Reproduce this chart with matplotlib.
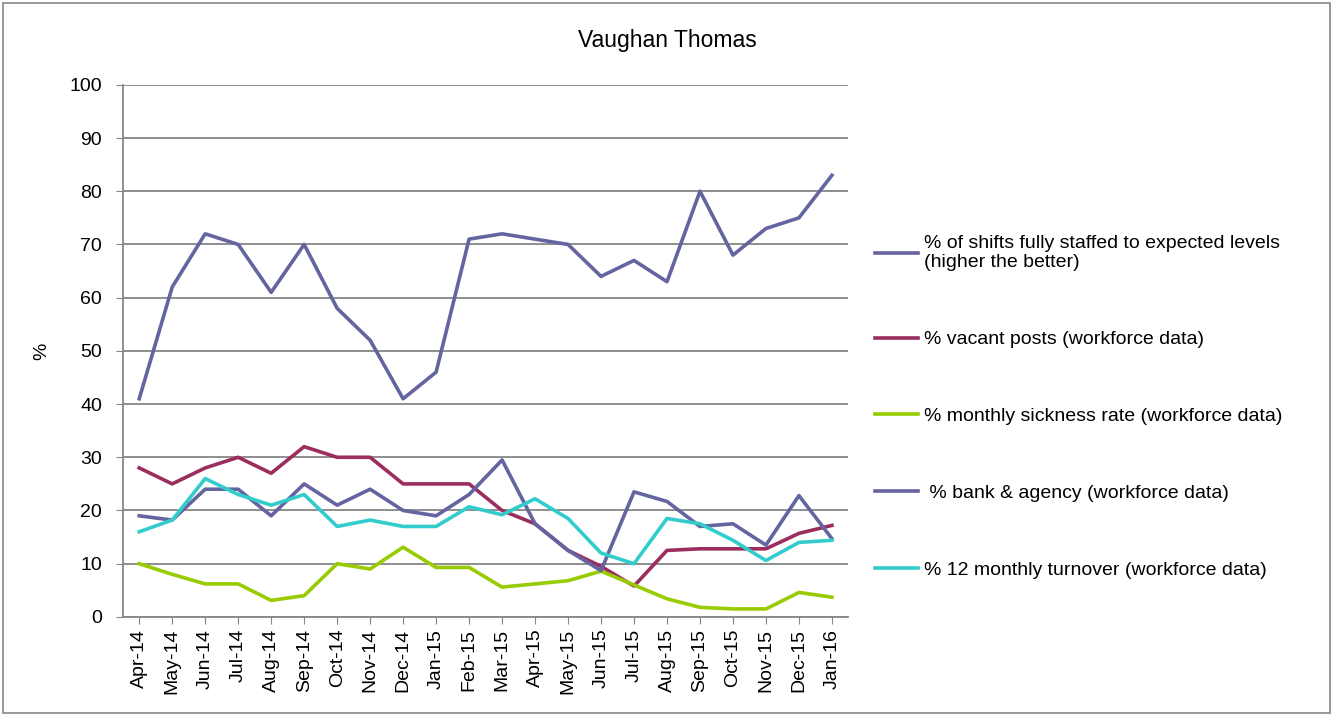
import matplotlib
matplotlib.use("Agg")
import matplotlib.pyplot as plt
from matplotlib.patches import Rectangle

# ---------------------------------------------------------------------------- #
# DATA

months = ["Apr-14", "May-14", "Jun-14", "Jul-14", "Aug-14", "Sep-14", "Oct-14",
          "Nov-14", "Dec-14", "Jan-15", "Feb-15", "Mar-15", "Apr-15", "May-15",
          "Jun-15", "Jul-15", "Aug-15", "Sep-15", "Oct-15", "Nov-15", "Dec-15",
          "Jan-16"]

shifts_staffed = [41, 62, 72, 70, 61, 70, 58, 52, 41, 46, 71, 72, 71, 70,
                  64, 67, 63, 80, 68, 73, 75, 83]
vacant_posts = [28, 25, 28, 30, 27, 32, 30, 30, 25, 25, 25, 20, 17.5, 12.5,
                9.5, 5.8, 12.5, 12.8, 12.8, 12.8, 15.7, 17.2]
sickness_rate = [10, 8, 6.2, 6.2, 3.1, 4, 10, 9, 13.1, 9.3, 9.3, 5.6, 6.2, 6.8,
                 8.6, 6, 3.4, 1.8, 1.5, 1.5, 4.6, 3.7]
bank_agency = [19, 18.2, 24, 24, 19, 25, 21, 24, 20, 19, 23, 29.5, 17.5, 12.5,
               8.7, 23.5, 21.7, 17, 17.5, 13.5, 22.8, 14.7]
turnover = [16, 18.2, 26, 23, 21, 23, 17, 18.2, 17, 17, 20.7, 19.2, 22.2, 18.5,
            12, 10, 18.5, 17.5, 14.4, 10.6, 14, 14.4]

labels = ["% of shifts fully staffed to expected levels\n(higher the better)",
          "% vacant posts (workforce data)",
          "% monthly sickness rate (workforce data)",
          " % bank & agency (workforce data)",
          "% 12 monthly turnover (workforce data)"]
colors = ["#6464a0", "#9b2d5f", "#99cc00", "#6464a0", "#33cccc"]

# ---------------------------------------------------------------------------- #
# FIGURE

plt.rcParams['font.family'] = ['Liberation Sans', 'DejaVu Sans']

fig = plt.figure(figsize=(13.34, 7.19), dpi=100)
ax = fig.add_axes([0.092, 0.142, 0.544, 0.740])

series = [shifts_staffed, vacant_posts, sickness_rate, bank_agency, turnover]
x = list(range(len(months)))
for values, label, color in zip(series, labels, colors):
    ax.plot(x, values, color=color, linewidth=2.6, label=label)

# Axes styling
ax.set_xlim(-0.5, len(months) - 0.5)
ax.set_ylim(0, 100)
ax.set_yticks(range(0, 101, 10))
ax.set_xticks(x)
ax.set_xticklabels(months, rotation=90, fontsize=14)
ax.tick_params(axis='y', labelsize=14, length=5, pad=10, color="#868686")
ax.tick_params(axis='x', length=5, color="#868686")
ax.grid(axis='y', color="#868686", linewidth=1.3)
ax.set_axisbelow(True)
for side in ["top", "right"]:
    ax.spines[side].set_visible(False)
for side in ["left", "bottom"]:
    ax.spines[side].set_color("#868686")
    ax.spines[side].set_linewidth(1.3)
ax.set_ylabel("%", fontsize=14, labelpad=14)

fig.text(0.5, 0.944, "Vaughan Thomas", ha='center', va='center', fontsize=16.5)

# Legend
fig.legend(loc='center left', bbox_to_anchor=(0.643, 0.434), frameon=False,
           fontsize=14, labelspacing=3.05, handlelength=2.2, handletextpad=0.3)

# Outer border of the chart
fig.patches.append(Rectangle((0.002, 0.008), 0.995, 0.988, transform=fig.transFigure,
                             fill=False, edgecolor="#868686", linewidth=1.2))

fig.savefig("out.png", dpi=100)
